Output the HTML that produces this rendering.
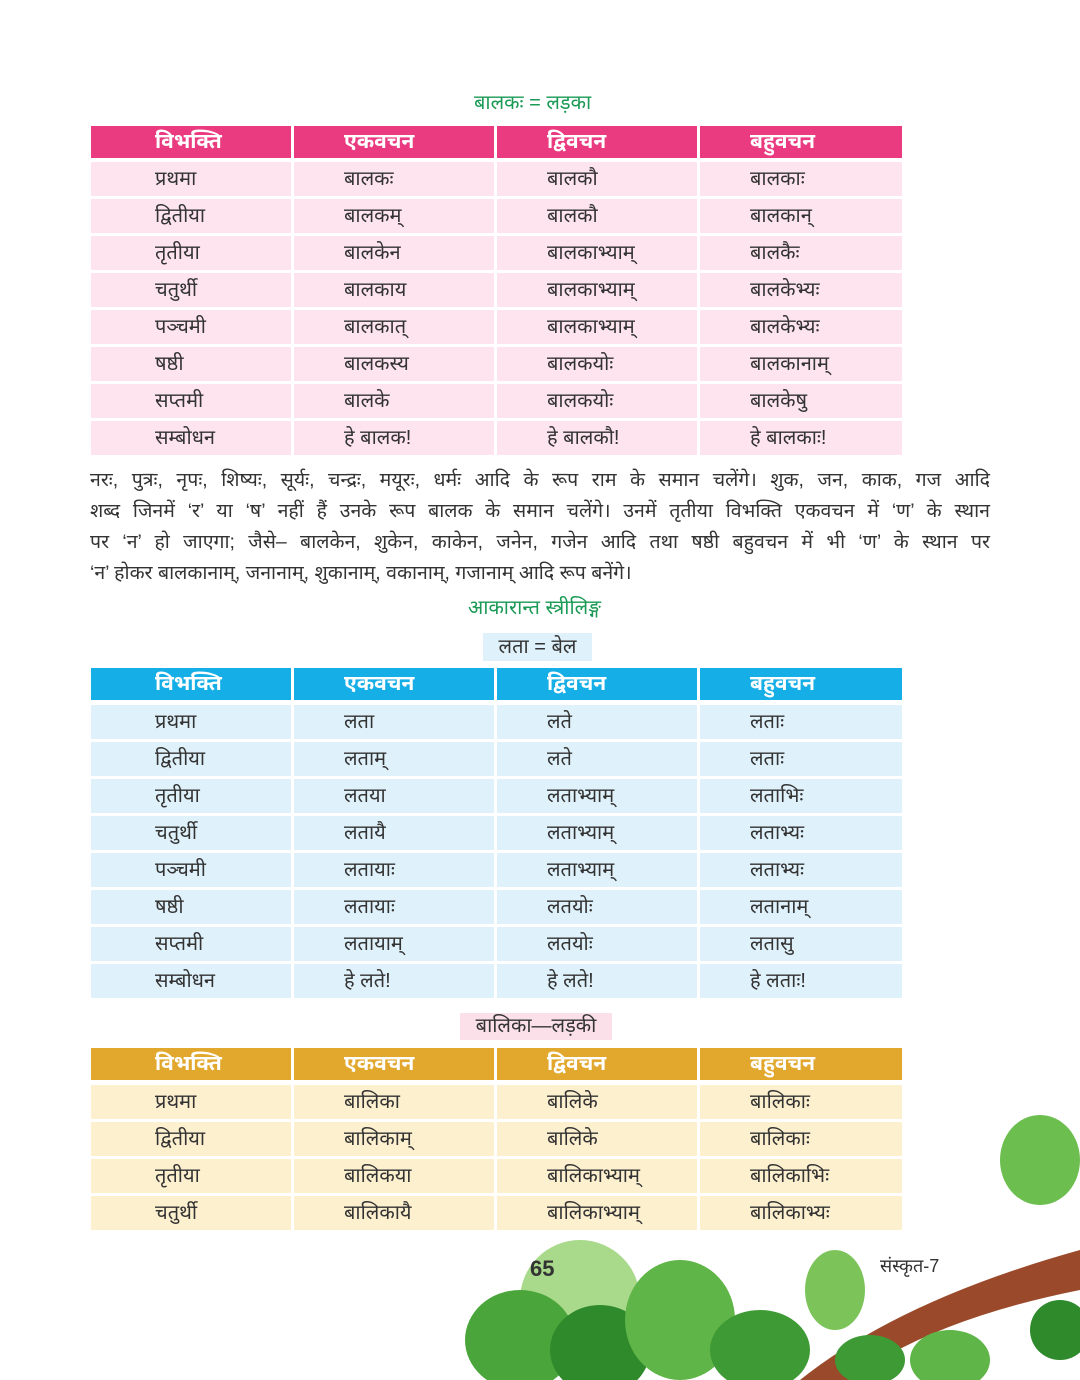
<!DOCTYPE html>
<html><head><meta charset="utf-8">
<style>
*{margin:0;padding:0;box-sizing:border-box}
body{width:1080px;height:1380px;background:#fff;position:relative;overflow:hidden;font-family:"Liberation Sans","Noto Sans Devanagari","Lohit Devanagari","Mangal",sans-serif;color:#333}
.t{position:absolute;left:91px;width:811px;display:grid;grid-template-columns:200px 200px 200px 202px;column-gap:3px;row-gap:3px}
.t div{font-size:20px;line-height:34px;height:34px;padding-left:64px;white-space:nowrap}
.t div:nth-child(4n+2),.t div:nth-child(4n+3),.t div:nth-child(4n){padding-left:50px}
.t .h{color:#fff;font-weight:bold;height:32px;line-height:32px;font-size:21px}
.cap{position:absolute;font-size:20px;white-space:nowrap}
.para{position:absolute;left:90px;top:465px;width:900px;font-size:19.5px;line-height:31px;color:#333}
.para div{text-align:justify;text-align-last:justify;white-space:nowrap;overflow:visible}
.para div.last{text-align-last:left}
</style></head><body>
<div class="cap" style="left:474px;top:92px;color:#1a9a55">बालकः = लड़का</div>
<div class="t" style="top:126px">
<div class="h" style="background:#ea3a80">विभक्ति</div><div class="h" style="background:#ea3a80">एकवचन</div><div class="h" style="background:#ea3a80">द्विवचन</div><div class="h" style="background:#ea3a80">बहुवचन</div>
</div>
<div class="t" id="t1" style="top:162px"></div>

<div class="para">
<div style="white-space:normal">नरः, पुत्रः, नृपः, शिष्यः, सूर्यः, चन्द्रः, मयूरः, धर्मः आदि के रूप राम के समान चलेंगे। शुक, जन, काक, गज आदि</div>
<div style="white-space:normal">शब्द जिनमें ‘र’ या ‘ष’ नहीं हैं उनके रूप बालक के समान चलेंगे। उनमें तृतीया विभक्ति एकवचन में ‘ण’ के स्थान</div>
<div style="white-space:normal">पर ‘न’ हो जाएगा; जैसे– बालकेन, शुकेन, काकेन, जनेन, गजेन आदि तथा षष्ठी बहुवचन में भी ‘ण’ के स्थान पर</div>
<div class="last">‘न’ होकर बालकानाम्, जनानाम्, शुकानाम्, वकानाम्, गजानाम् आदि रूप बनेंगे।</div>
</div>

<div class="cap" style="left:468px;top:597px;color:#1a9a55">आकारान्त स्त्रीलिङ्ग</div>
<div class="cap" style="left:483px;top:633px;width:109px;height:28px;background:#dff1fa;text-align:center;line-height:28px">लता = बेल</div>
<div class="t" style="top:668px">
<div class="h" style="background:#16aee6">विभक्ति</div><div class="h" style="background:#16aee6">एकवचन</div><div class="h" style="background:#16aee6">द्विवचन</div><div class="h" style="background:#16aee6">बहुवचन</div>
</div>
<div class="t" id="t2" style="top:705px"></div>

<div class="cap" style="left:460px;top:1013px;width:152px;height:27px;background:#fbe0ea;text-align:center;line-height:27px">बालिका—लड़की</div>
<div class="t" style="top:1048px">
<div class="h" style="background:#e2a82e">विभक्ति</div><div class="h" style="background:#e2a82e">एकवचन</div><div class="h" style="background:#e2a82e">द्विवचन</div><div class="h" style="background:#e2a82e">बहुवचन</div>
</div>
<div class="t" id="t3" style="top:1085px"></div>

<svg style="position:absolute;left:0;top:0" width="1080" height="1380">
<path d="M800 1380 Q900 1300 1080 1250 L1080 1290 Q930 1320 850 1380Z" fill="#9a4a2a"/>
<ellipse cx="580" cy="1300" rx="60" ry="60" fill="#a9d98a"/>
<ellipse cx="520" cy="1340" rx="55" ry="50" fill="#4aa53a"/>
<ellipse cx="600" cy="1350" rx="50" ry="45" fill="#2f8a2c"/>
<ellipse cx="680" cy="1320" rx="55" ry="60" fill="#5fb548"/>
<ellipse cx="760" cy="1350" rx="50" ry="40" fill="#3e9a34"/>
<ellipse cx="835" cy="1290" rx="30" ry="40" fill="#7cc45a"/>
<ellipse cx="870" cy="1360" rx="35" ry="25" fill="#3e9a34"/>
<ellipse cx="950" cy="1360" rx="40" ry="30" fill="#5fb548"/>
<ellipse cx="1040" cy="1160" rx="40" ry="45" fill="#6cbf4e"/>
<ellipse cx="1060" cy="1330" rx="30" ry="30" fill="#2f8a2c"/>
</svg>
<div class="cap" style="left:530px;top:1256px;font-weight:bold;font-size:22px;color:#333">65</div>
<div class="cap" style="left:880px;top:1256px;font-size:18px;color:#333">संस्कृत-7</div>

<script>
const cases=["प्रथमा","द्वितीया","तृतीया","चतुर्थी","पञ्चमी","षष्ठी","सप्तमी","सम्बोधन"];
const balakEk=["बालकः","बालकम्","बालकेन","बालकाय","बालकात्","बालकस्य","बालके","हे बालक!"];
const balakDvi=["बालकौ","बालकौ","बालकाभ्याम्","बालकाभ्याम्","बालकाभ्याम्","बालकयोः","बालकयोः","हे बालकौ!"];
const balakBahu=["बालकाः","बालकान्","बालकैः","बालकेभ्यः","बालकेभ्यः","बालकानाम्","बालकेषु","हे बालकाः!"];
const lataEk=["लता","लताम्","लतया","लतायै","लतायाः","लतायाः","लतायाम्","हे लते!"];
const lataDvi=["लते","लते","लताभ्याम्","लताभ्याम्","लताभ्याम्","लतयोः","लतयोः","हे लते!"];
const lataBahu=["लताः","लताः","लताभिः","लताभ्यः","लताभ्यः","लतानाम्","लतासु","हे लताः!"];
const balikaEk=["बालिका","बालिकाम्","बालिकया","बालिकायै"];
const balikaDvi=["बालिके","बालिके","बालिकाभ्याम्","बालिकाभ्याम्"];
const balikaBahu=["बालिकाः","बालिकाः","बालिकाभिः","बालिकाभ्यः"];
function fill(id,n,ek,dvi,bahu,bg,name){
  const t=document.getElementById(id);
  
  
  for(let i=0;i<n;i++){
    [cases[i],ek[i],dvi[i],bahu[i]].forEach(v=>{
      const d=document.createElement('div');
      
      
      d.style.background=bg;d.textContent=v;t.appendChild(d);
    });
  }
}
fill('t1',8,balakEk,balakDvi,balakBahu,'#fde4ee','balak-rows');
fill('t2',8,lataEk,lataDvi,lataBahu,'#dff1fa','lata-rows');
fill('t3',4,balikaEk,balikaDvi,balikaBahu,'#fdf0cf','balika-rows');
</script>
</body></html>
